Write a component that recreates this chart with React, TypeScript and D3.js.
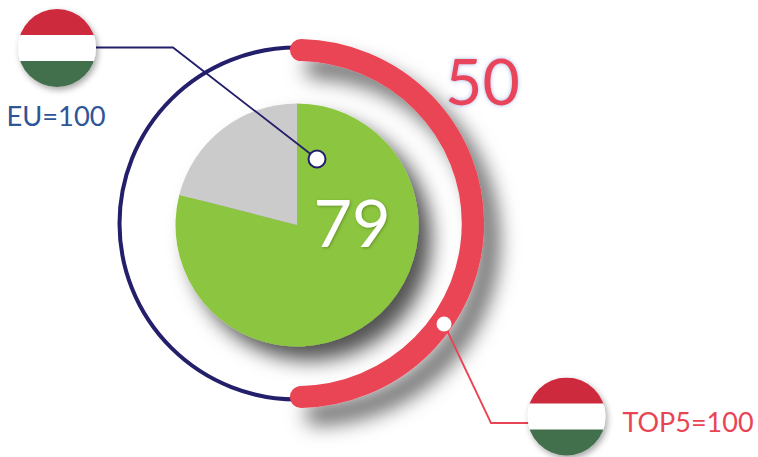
import React from "react";
import * as d3 from "d3";

const pieValues = [79, 21];
const pieColors = ["#8cc63f", "#cbcbcb"];
const ringValue = [50];
const outerLabel = "50";
const innerLabel = "79";
const euLabel = "EU=100";
const topLabel = "TOP5=100";
const font = "Lato, 'Open Sans', sans-serif";

const cx = 297, cy = 225;
const pieR = 121.5;
const ringCy = 223.5;
const ringR = 176;
const redR = 173.5;
const capInset = 0.37;

const angle = d3.scaleLinear().domain([0, 100]).range([-Math.PI / 2, Math.PI * 1.5]);
const pie = d3.pie<number>().sort(null);
const pieArc = d3.arc<d3.PieArcDatum<number>>().innerRadius(0).outerRadius(pieR);

const redPath = d3.path();
redPath.arc(0, 0, redR, angle(capInset), angle(ringValue[0] - capInset));
const redArc = redPath.toString();

function Flag({ x, y, r, id }: { x: number; y: number; r: number; id: string }) {
  return (
    <g filter="url(#softSmall)">
      <clipPath id={id}><circle cx={x} cy={y} r={r} /></clipPath>
      <g clipPath={`url(#${id})`}>
        <rect x={x - r} y={y - r} width={2 * r} height={r * 2 / 3 + 1} fill="#cd2a3e" />
        <rect x={x - r} y={y - r / 3} width={2 * r} height={r * 2 / 3 + 1} fill="#ffffff" />
        <rect x={x - r} y={y + r / 3} width={2 * r} height={r * 2 / 3 + 1} fill="#436f4d" />
      </g>
    </g>
  );
}

export default function App() {
  return (
    <svg width={758} height={457} style={{ position: "absolute", left: 0, top: 0 }}>
      <defs>
        <filter id="shadowBig" x="-30%" y="-30%" width="170%" height="170%">
          <feDropShadow dx="13" dy="14" stdDeviation="10" floodColor="#000" floodOpacity="0.68" />
        </filter>
        <filter id="shadowRing" x="-30%" y="-30%" width="170%" height="170%">
          <feDropShadow dx="15" dy="17" stdDeviation="10" floodColor="#000" floodOpacity="0.58" />
        </filter>
        <filter id="softSmall" x="-30%" y="-30%" width="160%" height="160%">
          <feDropShadow dx="2" dy="3" stdDeviation="3" floodColor="#000" floodOpacity="0.35" />
        </filter>
        <filter id="glow" x="-30%" y="-30%" width="160%" height="160%">
          <feDropShadow dx="0" dy="0" stdDeviation="2" floodColor="#5b7fd0" floodOpacity="0.55" />
        </filter>
        <filter id="textShadow" x="-30%" y="-30%" width="160%" height="160%">
          <feDropShadow dx="1" dy="1" stdDeviation="1.5" floodColor="#3a5a10" floodOpacity="0.5" />
        </filter>
      </defs>
      <ellipse cx={cx - 0.5} cy={ringCy} rx={ringR + 1} ry={ringR} fill="none" stroke="#231f6b" strokeWidth={4} />
      <g transform={`translate(${cx},${ringCy}) scale(1.014,1)`}>
        <path d={redArc} fill="none" stroke="#e94454" strokeWidth={22} strokeLinecap="round" filter="url(#shadowRing)" />
      </g>
      <g transform={`translate(${cx},${cy})`} filter="url(#shadowBig)">
        {pie(pieValues).map((d, i) => (
          <path key={i} d={pieArc(d) as string} fill={pieColors[i]} />
        ))}
      </g>
      <path d="M96 47.5H173L317 159" fill="none" stroke="#231f6b" strokeWidth={1.8} />
      <circle cx={317} cy={159} r={8.5} fill="#fff" stroke="#231f6b" strokeWidth={2} />
      <path d="M444 324L491 423H530" fill="none" stroke="#e94454" strokeWidth={1.8} />
      <circle cx={444} cy={324} r={7.5} fill="#fff" />
      <Flag x={57} y={48} r={39} id="f1" />
      <Flag x={566.5} y={416.5} r={39} id="f2" />
      <text x={56} y={126} textAnchor="middle" fontFamily={font} fontSize={27.3} fill="#2f5597">{euLabel}</text>
      <text x={688} y={432} textAnchor="middle" fontFamily={font} fontSize={27} fill="#e94454">{topLabel}</text>
      <text x={482.5} y={105} textAnchor="middle" fontFamily={font} fontSize={64.5} fill="#e8445a" filter="url(#glow)">{outerLabel}</text>
      <text x={352} y={247} textAnchor="middle" fontFamily={font} fontSize={66.5} fill="#fff" filter="url(#textShadow)">{innerLabel}</text>
    </svg>
  );
}
